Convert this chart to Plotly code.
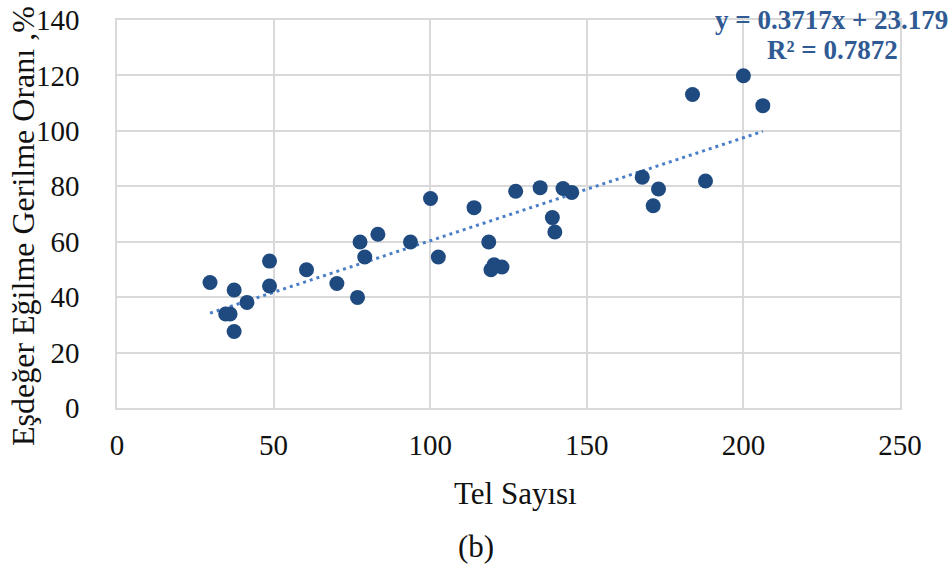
import plotly.graph_objects as go

# Wire count vs. equivalent bending stress ratio (%)
tel_sayisi = [29.7, 37.4, 34.7, 36.1, 37.4, 41.5, 48.7, 48.7, 60.5, 70.2,
              76.8, 77.6, 79.1, 83.3, 93.7, 100.1, 102.6, 114.0, 118.7, 119.4,
              120.4, 122.9, 127.3, 135.1, 139.0, 139.8, 142.4, 145.2, 167.7, 171.2,
              172.9, 187.9, 183.75, 200.0, 206.2]
oran = [45.3, 42.6, 33.9, 33.9, 27.6, 38.1, 53.0, 44.0, 49.9, 44.9,
        39.9, 59.9, 54.5, 62.7, 59.9, 75.6, 54.5, 72.3, 59.9, 49.9,
        51.7, 50.9, 78.2, 79.5, 68.7, 63.5, 79.2, 77.8, 83.3, 73.0,
        79.0, 81.9, 113.1, 119.9, 109.1]

# Linear trend line
egim = 0.3717
kesim = 23.179
r_kare = 0.7872

x_ticks = [0, 50, 100, 150, 200, 250]
y_ticks = [0, 20, 40, 60, 80, 100, 120, 140]

FONT = "Liberation Serif"
GRID = "#d9d9d9"

x_min, x_max = min(tel_sayisi), max(tel_sayisi)
trend_x = [x_min, x_max]
trend_y = [egim * v + kesim for v in trend_x]

fig = go.Figure()
fig.add_trace(go.Scatter(
    x=trend_x, y=trend_y, mode="lines",
    line=dict(color="#4A7EC7", width=3, dash="3px,4px"),
    hoverinfo="skip", showlegend=False,
))
fig.add_trace(go.Scatter(
    x=tel_sayisi, y=oran, mode="markers",
    marker=dict(color="#1F4A80", size=15, line=dict(width=0)),
    showlegend=False,
))

# plot area: left 117, right 900, top 20, bottom 408 (px)
L, R, T, B = 117, 900, 20, 408
W, H = R - L, B - T


def px(xp):
    return (xp - L) / W


def py(yp):
    return (B - yp) / H


axis_common = dict(
    showgrid=True, gridcolor=GRID, gridwidth=1.5,
    showline=True, linecolor=GRID, linewidth=1.5, mirror=True,
    zeroline=False, automargin=False,
    tickfont=dict(family=FONT, size=29, color="#111111"),
)

fig.update_xaxes(range=[0, 250], tickvals=x_ticks, ticks="", ticklabelstandoff=10,
                 **axis_common)
fig.update_yaxes(range=[0, 140], tickvals=y_ticks, ticks="", ticklabelstandoff=30,
                 **axis_common)

eq_color = "#2F5A93"
annotations = [
    dict(text=f"<b>y = {egim}x + {kesim}</b>", x=px(831), y=py(20),
         font=dict(family=FONT, size=27, color=eq_color)),
    dict(text=f"<b>R² = {r_kare}</b>", x=px(832), y=py(50),
         font=dict(family=FONT, size=27, color=eq_color)),
    dict(text="Tel Sayısı", x=px(515), y=py(493),
         font=dict(family=FONT, size=31, color="#111111")),
    dict(text="Eşdeğer Eğilme Gerilme Oranı ,%", x=px(23), y=py(226), textangle=-90,
         font=dict(family=FONT, size=32, color="#111111")),
    dict(text="(b)", x=px(476), y=py(546),
         font=dict(family=FONT, size=31, color="#111111")),
]
for a in annotations:
    a.update(xref="paper", yref="paper", xanchor="center", yanchor="middle",
             showarrow=False)

fig.update_layout(
    width=952, height=568,
    margin=dict(l=L, r=952 - R, t=T, b=568 - B, pad=0, autoexpand=False),
    paper_bgcolor="white", plot_bgcolor="white",
    annotations=annotations,
    showlegend=False,
)

fig.write_html("out.html")
